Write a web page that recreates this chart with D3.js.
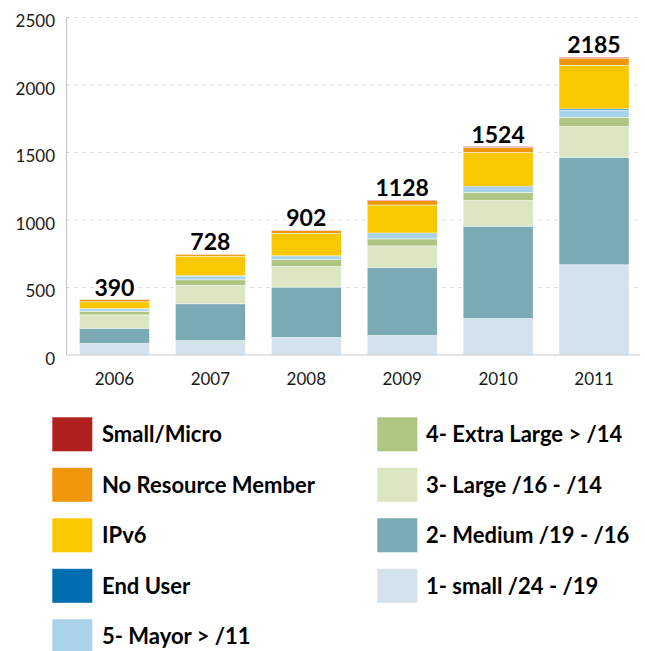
<!DOCTYPE html>
<html>
<head>
<meta charset="utf-8">
<script src="https://cdn.jsdelivr.net/npm/d3@7"></script>
<style>
  body { margin: 0; background: #fff; }
  svg { display: block; font-family: Lato, "Open Sans", sans-serif; }
</style>
</head>
<body>
<svg id="chart" width="645" height="651"></svg>
<script>
// data
const years = ["2006", "2007", "2008", "2009", "2010", "2011"];
const totals = [390, 728, 902, 1128, 1524, 2185];

// stack order, bottom to top
const seriesKeys = ["small", "medium", "large", "xlarge", "mayor", "endUser", "ipv6", "noResource", "micro"];
const small      = [85, 107, 130, 144, 270, 668];
const medium     = [113, 272, 373, 506, 684, 797];
const large      = [99, 136, 153, 158, 190, 227];
const xlarge     = [27, 42, 50, 52, 61, 69];
const mayor      = [18, 27, 24, 39, 35, 53];
const endUser    = [2, 5, 5, 5, 10, 9];
const ipv6       = [50, 143, 167, 207, 250, 323];
const noResource = [17, 13, 20, 32, 37, 53];
const micro      = [0, 0, 2, 4, 7, 7];

const seriesValues = { small, medium, large, xlarge, mayor, endUser, ipv6, noResource, micro };

const colors = {
    micro: "#b0201f",
    noResource: "#f0960a",
    ipv6: "#fac800",
    endUser: "#006eb0",
    mayor: "#a9d2eb",
    xlarge: "#afc682",
    large: "#dce6c3",
    medium: "#7aabb5",
    small: "#d2e3ec"
};

const labels = {
    micro: "Small/Micro",
    noResource: "No Resource Member",
    ipv6: "IPv6",
    endUser: "End User",
    mayor: "5- Mayor > /11",
    xlarge: "4- Extra Large > /14",
    large: "3- Large /16 - /14",
    medium: "2- Medium /19 - /16",
    small: "1- small /24 - /19"
};

const legendCol1 = ["micro", "noResource", "ipv6", "endUser", "mayor"];
const legendCol2 = ["xlarge", "large", "medium", "small"];

const yTicks = [0, 500, 1000, 1500, 2000, 2500];

const svg = d3.select("#chart");

const plot = { left: 66.5, right: 642, top: 17.5, bottom: 355 };

const x = d3.scaleBand()
    .domain(years)
    .range([plot.left, plot.right])
    .paddingInner(0.27)
    .paddingOuter(0.135);

const y = d3.scaleLinear()
    .domain([0, 2500])
    .range([plot.bottom, plot.top]);

// gridlines
svg.append("g")
    .selectAll("line")
    .data(yTicks.filter(d => d > 0))
    .join("line")
    .attr("x1", plot.left)
    .attr("x2", 640)
    .attr("y1", d => y(d))
    .attr("y2", d => y(d))
    .attr("stroke", "#d4d4d4")
    .attr("stroke-width", 1)
    .attr("stroke-dasharray", "3,5");

// stacked bars
const rows = years.map((yr, i) => {
    const r = { year: yr };
    seriesKeys.forEach(k => r[k] = seriesValues[k][i]);
    return r;
});

const stack = d3.stack().keys(seriesKeys)(rows);

svg.append("g")
    .selectAll("g")
    .data(stack)
    .join("g")
    .attr("fill", d => colors[d.key])
    .selectAll("rect")
    .data(d => d)
    .join("rect")
    .attr("x", d => x(d.data.year))
    .attr("y", d => y(d[1]))
    .attr("width", x.bandwidth())
    .attr("height", d => Math.max(0, y(d[0]) - y(d[1])))
    .attr("stroke", "#fff")
    .attr("stroke-width", 0.6)
    .attr("stroke-opacity", 0.8);

// axes lines
svg.append("line")
    .attr("x1", plot.left).attr("x2", plot.left)
    .attr("y1", plot.top).attr("y2", plot.bottom)
    .attr("stroke", "#c8c8c8").attr("stroke-width", 1.2);

svg.append("line")
    .attr("x1", plot.left).attr("x2", 640)
    .attr("y1", plot.bottom).attr("y2", plot.bottom)
    .attr("stroke", "#c8c8c8").attr("stroke-width", 1.2);

// y tick labels
svg.append("g")
    .selectAll("text")
    .data(yTicks)
    .join("text")
    .attr("x", 55)
    .attr("y", d => y(d) + 5.5)
    .attr("text-anchor", "end")
    .attr("dominant-baseline", "middle")
    .attr("font-size", "17px")
    .attr("fill", "#1a1a1a")
    .text(d => d);

// x labels
svg.append("g")
    .selectAll("text")
    .data(years)
    .join("text")
    .attr("x", d => x(d) + x.bandwidth() / 2)
    .attr("y", 381)
    .attr("text-anchor", "middle")
    .attr("dominant-baseline", "middle")
    .attr("font-size", "17px")
    .attr("fill", "#1a1a1a")
    .text(d => d);

// totals above bars
const barTops = years.map((yr, i) => d3.sum(seriesKeys, k => seriesValues[k][i]));

svg.append("g")
    .selectAll("text")
    .data(years)
    .join("text")
    .attr("x", (d, i) => x(d) + x.bandwidth() / 2)
    .attr("y", (d, i) => y(barTops[i]) - 4)
    .attr("text-anchor", "middle")
    .attr("font-size", "23px")
    .attr("font-weight", "700")
    .attr("fill", "#000")
    .text((d, i) => totals[i]);

// legend
function drawLegend(keys, rectX, textX) {
    const lg = svg.append("g");
    const item = lg.selectAll("g")
        .data(keys)
        .join("g")
        .attr("transform", (d, i) => `translate(0, ${417.3 + i * 50.5})`);

    item.append("rect")
        .attr("x", rectX)
        .attr("y", 0)
        .attr("width", 40)
        .attr("height", 34)
        .attr("fill", d => colors[d]);

    item.append("text")
        .attr("x", textX)
        .attr("y", 19.5)
        .attr("dominant-baseline", "middle")
        .attr("font-size", "22px")
        .attr("font-weight", "700")
        .attr("fill", "#000")
        .text(d => labels[d]);
}

drawLegend(legendCol1, 52.3, 102);
drawLegend(legendCol2, 377.3, 426);
</script>
</body>
</html>
